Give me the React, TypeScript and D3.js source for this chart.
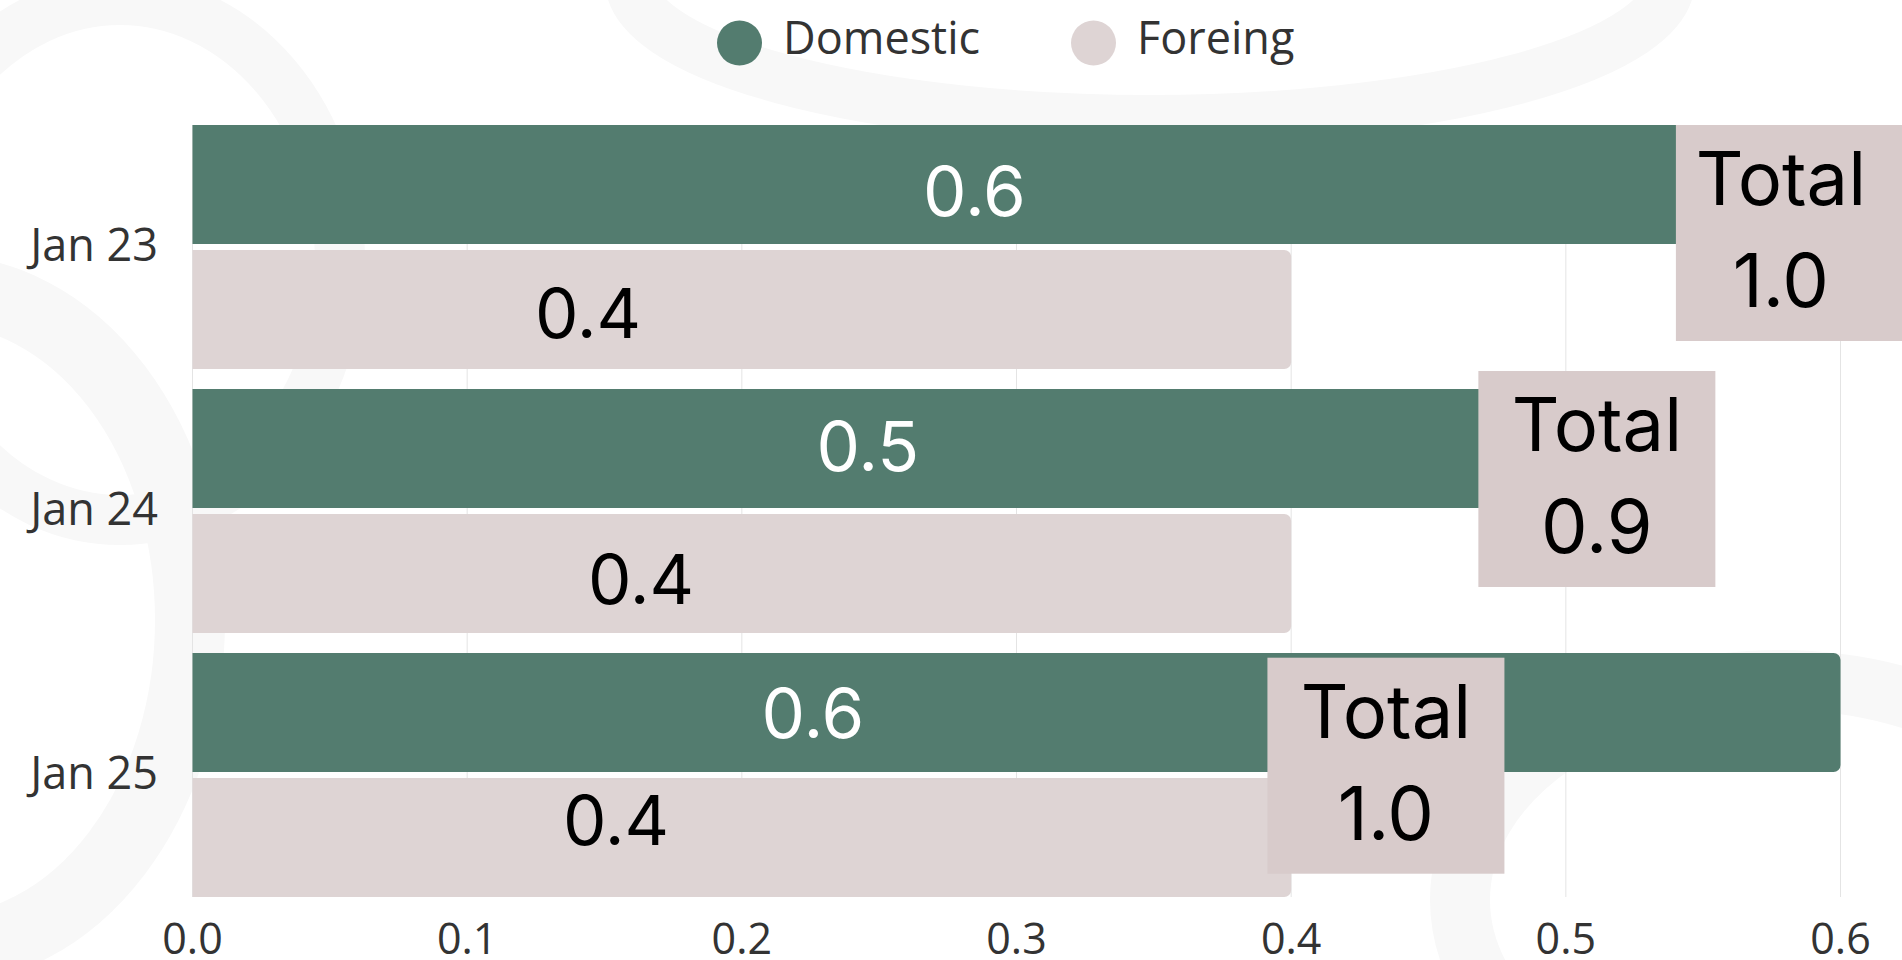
import React from "react";
import * as d3 from "d3";

// ---- data ----
const categories = ["Jan 23", "Jan 24", "Jan 25"];
const seriesNames = ["Domestic", "Foreing"];
const domestic = [0.6, 0.5, 0.6];
const foreign = [0.4, 0.4, 0.4];
const totals = [1.0, 0.9, 1.0];
const xTicks = [0, 0.1, 0.2, 0.3, 0.4, 0.5, 0.6];

// ---- label layout (data-space anchors + pixel nudges) ----
const domesticLabelAt = [0.2847, 0.2459, 0.2259];
const domesticLabelDy = [6.5, -2.5, 0.5];
const foreignLabelAt = [0.144, 0.1633, 0.1542];
const foreignLabelDy = [3.5, 5.5, -17.5];
const totalLabelAt = [0.5783, 0.5113, 0.4345];
const totalBoxDy = [-122, -140, -117.3];
const totalBoxShift = [13.5, 0, 0];

const W = 1902;
const H = 960;
const GREEN = "#537c6f";
const PINK = "#ded4d4";
const BOX = "#d8cbcb";
const GRID = "#e4e4e4";
const TXT = "#333333";
const SANS = "'Open Sans', 'Noto Sans', sans-serif";
const GEO = "Inter, Lato, sans-serif";

function roundRight(x0: number, x1: number, y: number, h: number, r: number) {
  const p = d3.path();
  p.moveTo(x0, y);
  p.lineTo(x1 - r, y);
  p.arcTo(x1, y, x1, y + r, r);
  p.lineTo(x1, y + h - r);
  p.arcTo(x1, y + h, x1 - r, y + h, r);
  p.lineTo(x0, y + h);
  p.closePath();
  return p.toString();
}

export default function App() {
  const x = d3.scaleLinear().domain([0, 0.6]).range([192.5, 1840.5]);
  const y = d3.scaleBand<string>().domain(categories).range([125, 897]).paddingInner(20 / 264).paddingOuter(0);
  const inner = d3.scaleBand<string>().domain(seriesNames).range([0, y.bandwidth()]).paddingInner(6 / 125);
  const bh = inner.bandwidth();
  const fmt = d3.format(".1f");
  const valFs = 69;
  const totFs = 74;
  const boxW = 237;
  const boxH = 216;

  return (
    <svg
      width={W}
      height={H}
      style={{ position: "absolute", left: 0, top: 0, background: "#ffffff" }}
    >
      {/* faint decorative background */}
      <g fill="none" stroke="#f8f8f8">
        <ellipse cx={-60} cy={620} rx={250} ry={330} strokeWidth={70} />
        <ellipse cx={120} cy={260} rx={220} ry={260} strokeWidth={50} />
        <ellipse cx={1780} cy={900} rx={320} ry={220} strokeWidth={60} />
        <ellipse cx={1150} cy={-20} rx={520} ry={140} strokeWidth={50} />
      </g>

      {/* grid */}
      {xTicks.map((t) => (
        <line key={"g" + t} x1={x(t)} x2={x(t)} y1={125} y2={897} stroke={GRID} strokeWidth={1} />
      ))}

      {/* bars */}
      {categories.map((c, i) => {
        const y0 = y(c)!;
        const yd = y0 + inner("Domestic")!;
        const yf = y0 + inner("Foreing")!;
        return (
          <g key={c}>
            <path d={roundRight(x(0), x(domestic[i]), yd, bh, 7)} fill={GREEN} />
            <path d={roundRight(x(0), x(foreign[i]), yf, bh, 7)} fill={PINK} />
          </g>
        );
      })}

      {/* value labels */}
      {categories.map((c, i) => {
        const y0 = y(c)!;
        const cd = y0 + inner("Domestic")! + bh / 2 + domesticLabelDy[i];
        const cf = y0 + inner("Foreing")! + bh / 2 + foreignLabelDy[i];
        const cap = valFs * 0.727;
        return (
          <g key={"v" + c} fontFamily={GEO} fontSize={valFs} textAnchor="middle">
            <text x={x(domesticLabelAt[i])} y={cd + cap / 2} fill="#ffffff">
              {fmt(domestic[i])}
            </text>
            <text x={x(foreignLabelAt[i])} y={cf + cap / 2} fill="#000000">
              {fmt(foreign[i])}
            </text>
          </g>
        );
      })}

      {/* total labels */}
      {categories.map((c, i) => {
        const gc = y(c)! + y.bandwidth() / 2;
        const top = gc + totalBoxDy[i];
        const cx = x(totalLabelAt[i]);
        const left = cx - boxW / 2 + totalBoxShift[i];
        return (
          <g key={"t" + c}>
            <rect x={left} y={top} width={boxW} height={boxH} fill={BOX} />
            <g fontFamily={GEO} fontSize={totFs} textAnchor="middle" fill="#000000">
              <text x={cx} y={top + 80}>Total</text>
              <text x={cx} y={top + 182}>{fmt(totals[i])}</text>
            </g>
          </g>
        );
      })}

      {/* y axis labels */}
      {categories.map((c) => (
        <text
          key={"y" + c}
          x={158}
          y={y(c)! + y.bandwidth() / 2 + 14}
          textAnchor="end"
          fontFamily={SANS}
          fontSize={45}
          fill={TXT}
        >
          {c}
        </text>
      ))}

      {/* x axis labels */}
      {xTicks.map((t) => (
        <text
          key={"x" + t}
          x={x(t)}
          y={954}
          textAnchor="middle"
          fontFamily={SANS}
          fontSize={43}
          fill={TXT}
        >
          {fmt(t)}
        </text>
      ))}

      {/* legend */}
      <g fontFamily={SANS} fontSize={45} fill={TXT}>
        <circle cx={739.5} cy={43} r={22.5} fill={GREEN} />
        <text x={783} y={54}>{seriesNames[0]}</text>
        <circle cx={1093.5} cy={43} r={22.5} fill={PINK} />
        <text x={1137} y={54}>{seriesNames[1]}</text>
      </g>
    </svg>
  );
}
